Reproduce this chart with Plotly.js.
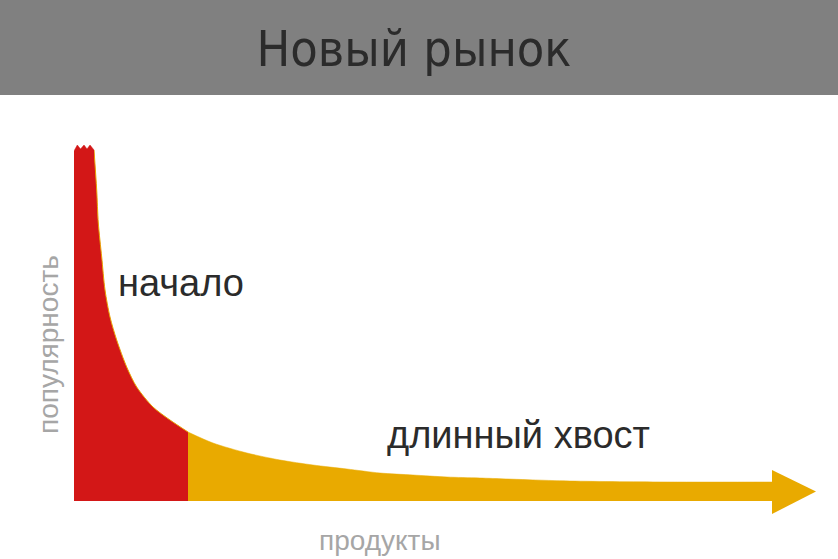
<!DOCTYPE html>
<html>
<head>
<meta charset="utf-8">
<script src="https://cdn.plot.ly/plotly-3.0.1.min.js"></script>
<style>html,body{margin:0;padding:0;background:#fff;}#chart{width:838px;height:559px;}</style>
</head>
<body>
<div id="chart"></div>
<script>
// Values (products along x, popularity along y)
const products   = [0, 3.3, 6.5, 10, 13, 16, 20, 22.7, 24.3, 27.7, 31, 36, 42.7, 52.7, 62.7, 79, 96, 114, 139, 173, 206, 239, 273, 306, 339, 373, 406, 496, 596, 698];
const popularity = [350, 356, 352, 356, 352, 356, 351, 311, 278, 244, 211, 184, 161, 134, 114, 94, 81, 69, 58, 48, 41, 36, 32, 28, 26, 24, 23, 20, 19, 19];
const headLimit = 114; // products up to here form the "head"
const peakLimit = 20;  // jagged top of the head

const titleText = 'Новый рынок';
const headLabel = 'начало';
const tailLabel = 'длинный хвост';
const xLabel = 'продукты';
const yLabel = 'популярность';

function slice(lo, hi) {
  const xs = [], ys = [];
  products.forEach((p, i) => { if (p >= lo && p <= hi) { xs.push(p); ys.push(popularity[i]); } });
  return {xs, ys};
}
const peak = slice(0, peakLimit);
const head = slice(peakLimit, headLimit);
const tail = slice(headLimit, Infinity);

const RED = '#d31717', YEL = '#e9aa00';
const lastX = products[products.length - 1];
const lastY = popularity[popularity.length - 1];

const traces = [
  {x: tail.xs, y: tail.ys, type: 'scatter', mode: 'lines', fill: 'tozeroy', line: {color: YEL, width: 0.5, shape: 'spline', smoothing: 0.8},
   fillcolor: YEL, hoverinfo: 'skip'},
  {x: head.xs, y: head.ys, type: 'scatter', mode: 'lines', fill: 'tozeroy', line: {color: '#e8a000', width: 1, shape: 'spline', smoothing: 0.8},
   fillcolor: RED, hoverinfo: 'skip'},
  {x: peak.xs, y: peak.ys, type: 'scatter', mode: 'lines', fill: 'tozeroy', line: {color: RED, width: 0.5},
   fillcolor: RED, hoverinfo: 'skip'}
];

const font = '"Liberation Sans", Arial, sans-serif';
const layout = {
  width: 838, height: 559,
  margin: {l: 74, r: 22, t: 141, b: 18},
  paper_bgcolor: '#ffffff', plot_bgcolor: 'rgba(0,0,0,0)',
  showlegend: false,
  title: {text: titleText, x: 0.494, xanchor: 'center', y: 0.914, yanchor: 'middle', yref: 'container',
          font: {family: '"Liberation Sans Narrow", "DejaVu Sans Condensed", Arial, sans-serif', size: 50, color: '#2b2b2b'}},
  xaxis: {range: [0, 742], visible: false, fixedrange: true},
  yaxis: {range: [-40, 360], visible: false, fixedrange: true},
  shapes: [
    {type: 'rect', xref: 'paper', yref: 'paper', x0: -0.2, x1: 1.2, y0: 1 + (141 - 95) / 400, y1: 1 + 141 / 400 + 0.05,
     fillcolor: '#808080', line: {width: 0}, layer: 'below'},
    {type: 'path', xref: 'x', yref: 'y',
     path: `M ${lastX},${lastY + 12} L ${lastX + 44},${lastY / 2} L ${lastX},${-13} Z`,
     fillcolor: YEL, line: {width: 0}}
  ],
  annotations: [
    {text: headLabel, x: 107, y: 218, xref: 'x', yref: 'y', showarrow: false,
     font: {family: font, size: 38, color: '#2b2b2b'}},
    {text: tailLabel, x: 444, y: 66, xref: 'x', yref: 'y', showarrow: false,
     font: {family: font, size: 38, color: '#2b2b2b'}},
    {text: xLabel, x: 306, y: -39, xref: 'x', yref: 'y', showarrow: false,
     font: {family: font, size: 28, color: '#a6a6a6'}},
    {text: yLabel, x: -26 / 742, y: 156, xref: 'paper', yref: 'y', xanchor: 'center', yanchor: 'middle',
     showarrow: false, textangle: -90,
     font: {family: font, size: 28, color: '#a6a6a6'}}
  ]
};

Plotly.newPlot('chart', traces, layout, {staticPlot: true, displayModeBar: false});
</script>
</body>
</html>
